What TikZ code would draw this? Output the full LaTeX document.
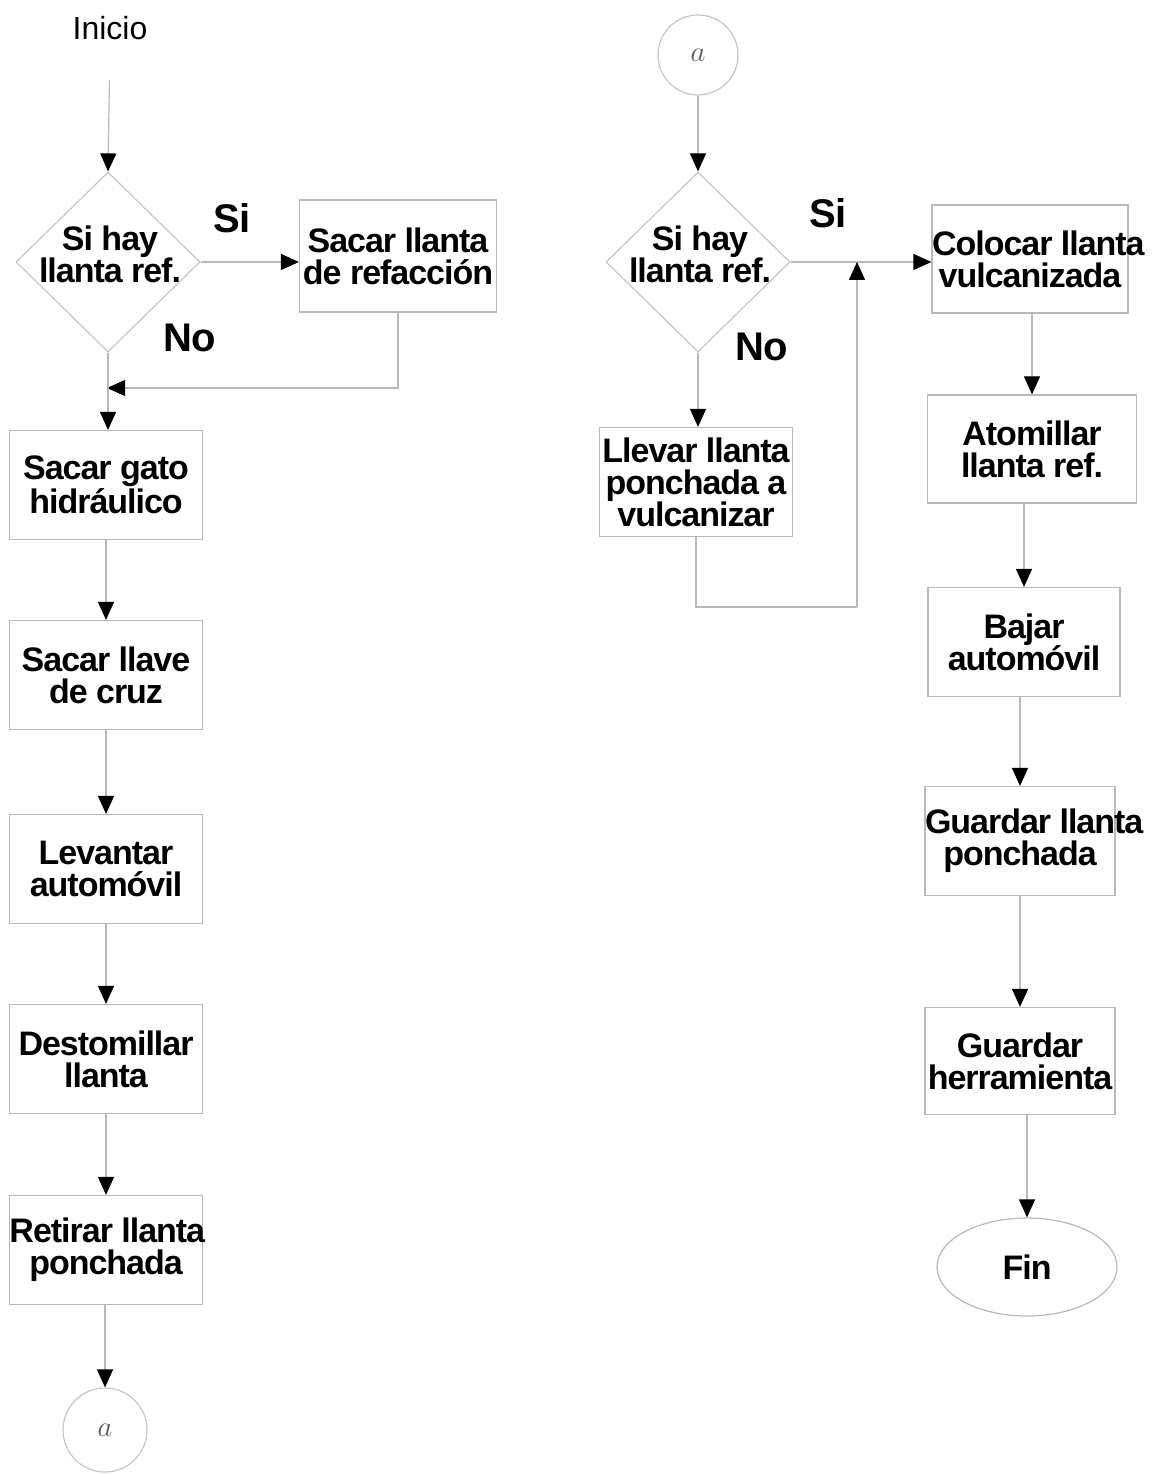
\documentclass[tikz,border=0pt]{standalone}
\usepackage{fontspec}
\setmainfont{Liberation Sans}
\newfontfamily\stepfont{Liberation Sans}[LetterSpace=-3]
\usetikzlibrary{arrows.meta,shapes.geometric}

\begin{document}
\begin{tikzpicture}[x=0.5pt,y=-0.5pt,
  line/.style={draw=gray!55, line width=0.6pt},
  flow/.style={line, -{Triangle[width=8pt,length=9pt,color=black]}},
  stepbox/.style={rectangle, draw=gray!55, line width=0.6pt, align=center,
    inner sep=0pt, text width=#1, minimum height=54.5pt,
    execute at begin node={\spaceskip=0pt\xspaceskip=0pt},
    font=\stepfont\bfseries\fontsize{17pt}{16pt}\selectfont},
  stepbox/.default=96.5pt,
  decision/.style={diamond, draw=gray!45, line width=0.6pt, inner sep=0pt,
    minimum width=92pt, minimum height=90pt},
  dectext/.style={align=center, inner sep=0pt,
    font=\stepfont\bfseries\fontsize{17pt}{16pt}\selectfont},
  answer/.style={inner sep=0pt, font=\stepfont\bfseries\fontsize{20pt}{20pt}\selectfont},
  connector/.style={circle, draw=gray!45, line width=0.6pt, inner sep=0pt,
    text=gray!70!black, font=\fontsize{15pt}{15pt}\selectfont},
  terminal/.style={ellipse, draw=gray!55, line width=0.6pt, inner sep=0pt,
    minimum width=90pt, minimum height=49pt,
    font=\stepfont\bfseries\fontsize{17pt}{16pt}\selectfont}
]
\useasboundingbox (0,0) rectangle (1155,1475);

% ---- left column ----
\node[font=\fontsize{16pt}{16pt}\selectfont, inner sep=2pt] (inicio) at (110,28) {Inicio};
\node[decision] (d1) at (108,262) {};
\node[dectext] (d1t) at (110,254) {Si hay\\llanta ref.};
\node[answer] (si1) at (232,218) {Si};
\node[answer] (no1) at (190,338) {No};
\node[stepbox=98.5pt, minimum height=56pt] (ref) at (398,256) {\mbox{Sacar llanta}\\\mbox{de refacción}};
\coordinate (m1) at (107,388);

\node[stepbox] (gato) at (106,485) {\mbox{Sacar gato}\\hidráulico};
\node[stepbox] (llave) at (106,675) {\mbox{Sacar llave}\\\mbox{de cruz}};
\node[stepbox] (lev) at (106,869) {Levantar\\automóvil};
\node[stepbox] (dest) at (106,1059) {Destomillar\\llanta};
\node[stepbox] (ret) at (106,1250) {\mbox{Retirar llanta}\\ponchada};
\node[connector, minimum size=42pt] (a1) at (105,1430) {$a$};

\draw[flow, shorten <=18pt] (inicio.south) -- (d1.north);
\draw[flow] (d1.east) -- (d1.east -| ref.west);
\draw[flow] (ref.south) |- (m1);
\draw[flow] (d1.south) -- (d1.south |- gato.north);
\draw[flow] (gato.south) -- (llave.north);
\draw[flow] (llave.south) -- (lev.north);
\draw[flow] (lev.south) -- (dest.north);
\draw[flow] (dest.south) -- (ret.north);
\draw[flow] (ret.south -| a1.north) -- (a1.north);

% ---- right column ----
\node[connector, minimum size=40pt] (a2) at (698,55) {$a$};
\node[decision] (d2) at (698,262) {};
\node[dectext] (d2t) at (700,254) {Si hay\\llanta ref.};
\node[answer] (si2) at (828,213) {Si};
\node[answer] (no2) at (762,347) {No};
\node[stepbox] (llevar) at (696,482) {\mbox{Llevar llanta}\\\mbox{ponchada a}\\vulcanizar};
\coordinate (loop) at (857,607);
\coordinate (join) at (857,262);

\node[stepbox=98pt, minimum height=54pt] (coloc) at (1030,259) {\mbox{Colocar llanta}\\vulcanizada};
\node[stepbox=104.5pt, minimum height=54pt] (atom) at (1032,449) {Atomillar\\\mbox{llanta ref.}};
\node[stepbox=96pt] (bajar) at (1024,642) {Bajar\\automóvil};
\node[stepbox=95pt] (gll) at (1020,841) {\mbox{Guardar llanta}\\ponchada};
\node[stepbox=95pt, minimum height=53.5pt] (gher) at (1020,1061) {Guardar\\herramienta};
\node[terminal] (fin) at (1027,1267) {Fin};

\draw[flow] (a2.south) -- (d2.north);
\draw[flow] (d2.east) -- (d2.east -| coloc.west);
\draw[flow] (d2.south) -- (d2.south |- llevar.north);
\draw[line] (llevar.south) |- (loop);
\draw[flow] (loop) -- (join);
\draw[flow] (coloc.south -| atom.north) -- (atom.north);
\draw[flow] (atom.south -| bajar.north) -- (bajar.north);
\draw[flow] (bajar.south -| gll.north) -- (gll.north);
\draw[flow] (gll.south) -- (gher.north);
\draw[flow] (gher.south -| fin.north) -- (fin.north);
\end{tikzpicture}
\end{document}
